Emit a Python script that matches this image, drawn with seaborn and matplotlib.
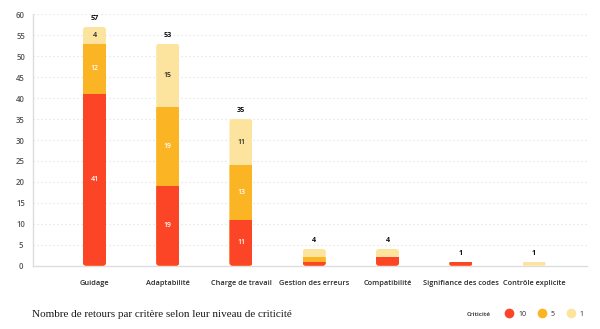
import matplotlib
matplotlib.use("Agg")
import matplotlib.pyplot as plt
from matplotlib.patches import FancyBboxPatch
from matplotlib.lines import Line2D
import numpy as np
import pandas as pd
import seaborn as sns

# Feedback counts per criterion, split by criticality level
criteres = ["Guidage", "Adaptabilité", "Charge de travail", "Gestion des erreurs",
            "Compatibilité", "Signifiance des codes", "Contrôle explicite"]
crit_10 = [41, 19, 11, 1, 2, 1, 0]
crit_5 = [12, 19, 13, 1, 0, 0, 0]
crit_1 = [4, 15, 11, 2, 2, 0, 1]
y_ticks = [0, 5, 10, 15, 20, 25, 30, 35, 40, 45, 50, 55, 60]

RED = "#FB4526"
ORANGE = "#FAB424"
PALE = "#FCE49E"

df = pd.DataFrame({"critere": criteres, "c10": crit_10, "c5": crit_5, "c1": crit_1})
df["cum5"] = df["c10"] + df["c5"]
df["total"] = df["cum5"] + df["c1"]

sns.set_theme(style="white")
plt.rcParams["font.family"] = ["Open Sans", "DejaVu Sans"]

fig = plt.figure(figsize=(6.0, 3.29), dpi=100)
ax = fig.add_axes([0.055, 0.1924, 0.923, 0.764])

bar_w = 0.314
# Stacked bars drawn back to front: total, then 10+5, then 10
for col, color in [("total", PALE), ("cum5", ORANGE), ("c10", RED)]:
    sns.barplot(data=df, x="critere", y=col, color=color, saturation=1,
                width=bar_w, linewidth=0, edgecolor="none", ax=ax, zorder=3)

ax.set_xlim(-0.839, 6.72)
ax.set_ylim(0, 60)
ax.set_yticks(y_ticks)
ax.set_xlabel("")
ax.set_ylabel("")

# Rounded outline for each stack, used as a clip path
aspect = 17.5
n = len(criteres)
clips = []
for i, tot in enumerate(df["total"]):
    r = min(0.045, tot / aspect / 2.0) if tot > 0 else 0.0
    clip = FancyBboxPatch((i - bar_w / 2, 0), bar_w, tot,
                          boxstyle=f"round,pad=0,rounding_size={r}",
                          mutation_aspect=aspect, transform=ax.transData)
    clips.append(clip)
for k, p in enumerate(ax.patches):
    p.set_clip_path(clips[k % n])

# Dotted horizontal grid
for yv in y_ticks[1:]:
    ax.axhline(yv, color="#E3E3E6", lw=0.9, ls=(0, (1, 2.2)), zorder=1)

for side in ["top", "right"]:
    ax.spines[side].set_visible(False)
for side in ["left", "bottom"]:
    ax.spines[side].set_color("#DCDCE2")
    ax.spines[side].set_linewidth(1.0)

ax.tick_params(axis="both", length=0)
ax.tick_params(axis="y", pad=9, labelsize=5.6, labelcolor="#555555")
ax.tick_params(axis="x", pad=10, labelsize=5.3, labelcolor="#2A2A2A")
for lab in ax.get_yticklabels():
    lab.set_fontweight("semibold")
    lab.set_horizontalalignment("center")
for lab in ax.get_xticklabels():
    lab.set_fontweight("semibold")

# Segment values and totals
for i in range(n):
    segs = [(0, crit_10[i], "white"),
            (crit_10[i], crit_5[i], "white"),
            (crit_10[i] + crit_5[i], crit_1[i], "#222222")]
    for base, val, tc in segs:
        if val >= 4:
            ax.text(i, base + val / 2, str(val), ha="center", va="center",
                    fontsize=5, color=tc, fontweight="semibold", zorder=5)
    tot = df["total"][i]
    ax.annotate(str(tot), (i, tot), xytext=(0, 3.5), textcoords="offset points",
                ha="center", va="bottom", fontsize=5.2, fontweight="bold",
                color="#111111", zorder=5)

# Title and legend below the plot
fig.text(0.053, 0.045, "Nombre de retours par critère selon leur niveau de criticité",
         family=["Liberation Serif", "DejaVu Serif"], fontsize=8.0, color="#1A1A1A",
         ha="left", va="center")
fig.text(0.778, 0.045, "Criticité", fontsize=4.6, fontweight="semibold",
         color="#222222", ha="left", va="center")
handles = [Line2D([], [], marker="o", ls="none", markersize=7,
                  markerfacecolor=c, markeredgecolor="none")
           for c in (RED, ORANGE, PALE)]
fig.legend(handles, ["10", "5", "1"], loc="center left",
           bbox_to_anchor=(0.841, 0.045), ncol=3, frameon=False,
           fontsize=5, handletextpad=0.65, columnspacing=1.6, handlelength=1.3,
           borderpad=0, borderaxespad=0)

fig.savefig("out.png", dpi=100, facecolor="white")
